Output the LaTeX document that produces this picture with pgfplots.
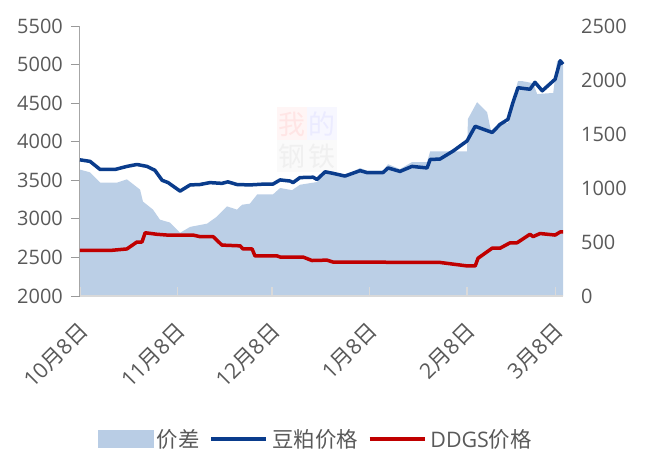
\documentclass[border=0pt]{standalone}
\usepackage{pgfplots}
\pgfplotsset{compat=1.18}
\usepackage{fontspec}
\setmainfont{Open Sans}
\newfontfamily\cjk{Noto Sans CJK SC}
\definecolor{areacol}{RGB}{185,205,229}
\definecolor{bluecol}{RGB}{10,60,140}
\definecolor{redcol}{RGB}{192,0,0}
\definecolor{txt}{RGB}{89,89,89}
\newcommand{\md}[2]{#1{\cjk 月}#2{\cjk 日}}
\pgfplotsset{
  common/.style={
    scale only axis, width=483bp, height=270bp,
    xmin=0, xmax=153.5,
    scaled ticks=false,
    /pgf/number format/assume math mode=true,
    /pgf/number format/1000 sep={},
    tick label style={font=\fontsize{20}{24}\selectfont, text=txt},
    clip=false,
  },
  linelegend/.style={legend image code/.code={\draw[##1] (0bp,0bp) -- (55bp,0bp);}},
  arealegend/.style={legend image code/.code={\fill[areacol] (0bp,-8.5bp) rectangle (55bp,8.5bp);}},
}
\begin{document}
\begin{tikzpicture}
\useasboundingbox (-80bp,-154bp) rectangle (566bp,296bp);
% faint watermark
\begin{scope}[font=\cjk\fontsize{27}{30}\selectfont]
\fill[red!4] (197bp,156bp) rectangle (227bp,189bp);
\fill[blue!3] (227bp,156bp) rectangle (257bp,189bp);
\fill[black!2] (197bp,124bp) rectangle (257bp,156bp);
\node[text=red!10] at (212bp,172bp) {我};
\node[text=blue!8] at (242bp,172bp) {的};
\node[text=black!6] at (212bp,140bp) {钢};
\node[text=black!6] at (242bp,140bp) {铁};
\end{scope}
% area on right axis
\begin{axis}[common,
  at={(0,0)}, anchor=south west,
  ymin=0, ymax=2500,
  axis y line*=right, axis x line=none,
  ytick={0,500,1000,1500,2000,2500},
  y axis line style={draw=none},
  ytick style={draw=none},
  yticklabel style={anchor=west, inner sep=0pt, xshift=18bp},
]
\addplot[fill=areacol, draw=none, fill opacity=0.97] coordinates {
(0,1170)(3.2,1145)(6.4,1050)(11.8,1050)(14.9,1080)(19.1,985)(20.0,875)(23.2,800)(25.4,707)(28.6,680)(31.8,585)(35.0,640)(40.4,670)(43.5,735)(46.7,830)(49.9,800)(51.5,845)(54.0,855)(56.3,940)(61.3,940)(63.6,1000)(67.4,980)(69.9,1030)(75.3,1055)(77.9,1140)(80.4,1150)(84.2,1115)(89.0,1185)(91.2,1160)(96.3,1160)(97.9,1220)(101.7,1175)(105.5,1240)(110.3,1240)(111.3,1340)(123.0,1340)(123.3,1640)(126.2,1795)(129.4,1700)(130.3,1570)(131.0,1500)(133.5,1605)(136.0,1600)(137.6,1820)(139.2,1990)(140.5,1990)(144.0,1970)(145.3,1870)(150.4,1880)(151.6,2175)(153.5,2175)
} \closedcycle;
\end{axis}
% lines on left axis
\begin{axis}[common,
  at={(0,0)}, anchor=south west,
  ymin=2000, ymax=5500,
  axis y line*=left, axis x line*=bottom,
  ytick={2000,2500,...,5500},
  xtick={0,31,61,92,123,151},
  xticklabels={\md{10}{8},\md{11}{8},\md{12}{8},\md{1}{8},\md{2}{8},\md{3}{8}},
  tick align=outside,
  major tick length=9bp,
  x axis line style={draw=black!15, line width=1.5bp, -},
  y axis line style={draw=black!35, line width=1bp, -},
  xtick style={draw=black!15, line width=1.2bp, yshift=9bp},
  ytick style={draw=black!40, line width=1bp},
  yticklabel style={anchor=east, inner sep=0pt, xshift=-8bp},
  xticklabel style={font=\fontsize{21.5}{24}\selectfont, inner sep=0pt, xshift=4bp, yshift=-22bp, rotate=45, anchor=east},
  legend style={at={(0.49,-0.53)}, anchor=center, draw=none, fill=none,
    legend columns=-1, font=\fontsize{21.5}{24}\selectfont, text=txt,
    nodes={inner sep=4bp},
    /tikz/every even column/.append style={column sep=6bp}},
]
\addlegendimage{arealegend}
\addlegendentry{{\cjk 价差}}
\addplot[bluecol, line width=3.5bp, line join=round, linelegend] coordinates {
(0,3765)(3.2,3745)(6.4,3640)(11.1,3640)(14.9,3680)(18.1,3705)(21.3,3680)(23.8,3630)(26.1,3500)(28.0,3470)(31.8,3360)(35.0,3440)(38.1,3445)(41.3,3470)(45.1,3460)(47.0,3480)(49.9,3445)(54.0,3440)(58.2,3450)(61.3,3450)(63.6,3505)(66.8,3490)(67.7,3470)(69.9,3535)(74.1,3540)(75.3,3510)(77.9,3610)(80.4,3590)(84.2,3555)(89.0,3625)(91.2,3600)(96.3,3600)(97.9,3660)(101.7,3615)(105.5,3680)(110.3,3660)(111.3,3770)(114.4,3775)(118.6,3880)(123.0,4010)(125.6,4200)(131.0,4120)(133.5,4225)(136.0,4290)(137.6,4510)(139.2,4700)(143.0,4680)(144.6,4770)(146.9,4660)(151.0,4810)(152.6,5050)(153.5,5005)
};
\addlegendentry{{\cjk 豆粕价格}}
\addplot[redcol, line width=3.5bp, line join=round, linelegend] coordinates {
(0,2590)(9.5,2590)(14.9,2610)(18.1,2700)(19.7,2700)(20.7,2820)(24.5,2800)(27.7,2790)(35.9,2790)(38.1,2770)(42.3,2770)(45.1,2660)(50.9,2650)(51.8,2610)(54.7,2610)(55.6,2520)(62.6,2520)(63.6,2505)(70.9,2505)(73.7,2460)(78.5,2465)(80.4,2440)(114.4,2435)(123.0,2390)(125.6,2390)(126.5,2490)(131.0,2620)(133.5,2620)(136.7,2690)(138.9,2690)(143.0,2800)(144.0,2770)(146.2,2810)(151.0,2790)(152.6,2830)(153.5,2830)
};
\addlegendentry{DDGS{\cjk 价格}}
\end{axis}
\end{tikzpicture}
\end{document}
